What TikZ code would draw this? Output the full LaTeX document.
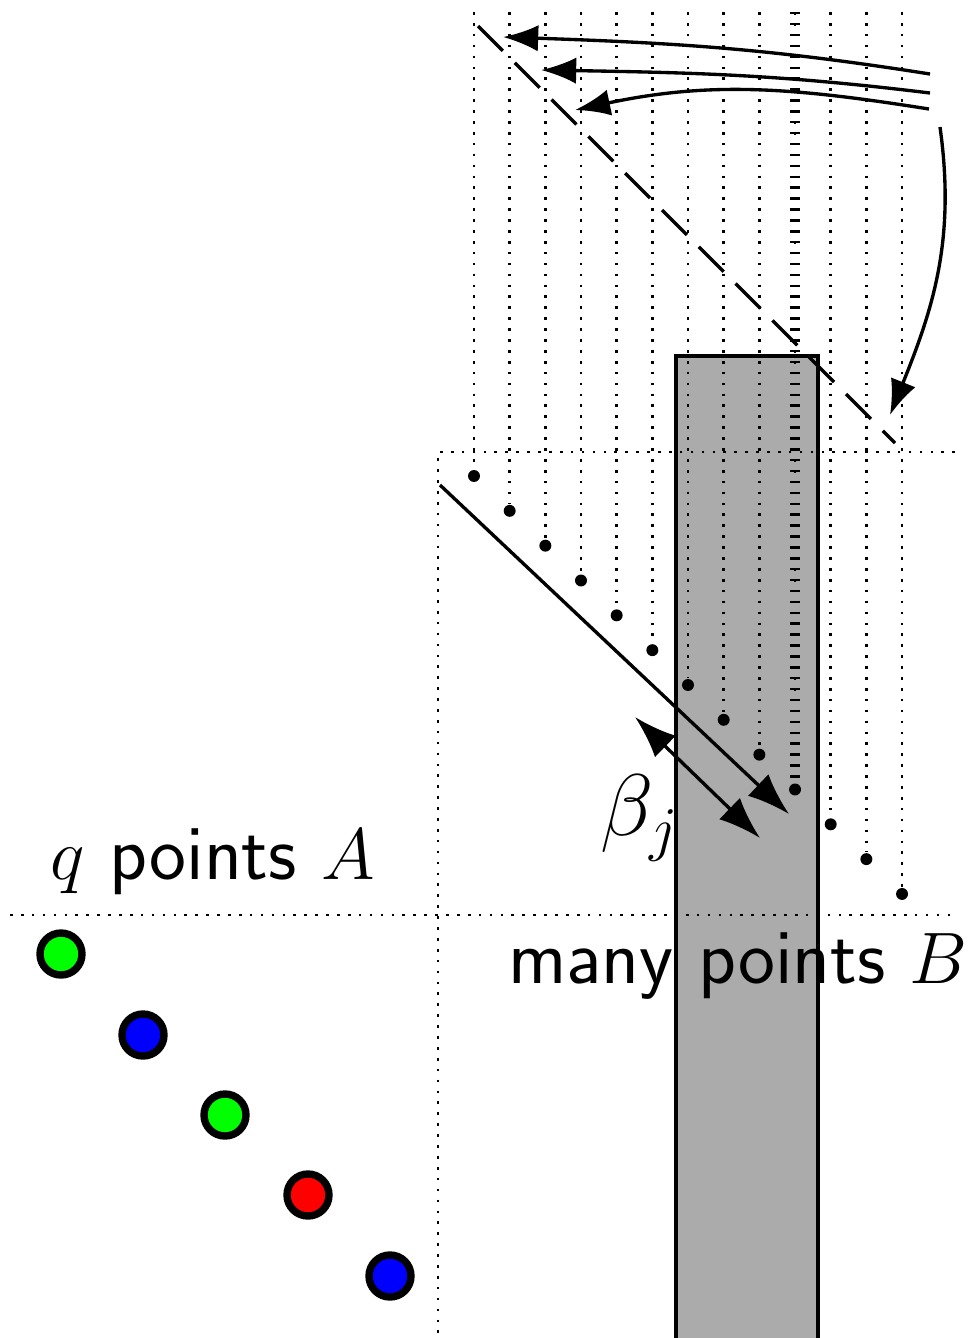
\documentclass[tikz,border=0pt]{standalone}
\usepackage{tikz}
\usetikzlibrary{arrows.meta,positioning}

\begin{document}
\begin{tikzpicture}[x=0.01cm,y=0.01cm,
  gridline/.style={line width=0.75pt, dash pattern=on 0.75pt off 2.35pt},
  bigtip/.style={-{Latex[length=12pt,width=8.5pt]}, line width=0.95pt},
  curvetip/.style={-{Latex[length=10pt,width=7.5pt]}, line width=0.95pt},
  bpoint/.style={circle, fill=black, inner sep=0pt, minimum size=3.4pt},
  apoint/.style={circle, draw=black, line width=2.1pt, inner sep=0pt, minimum size=0.42cm},
  bigtext/.style={font=\fontsize{22.3}{26}\selectfont\sffamily, inner sep=0pt}]
\useasboundingbox (0,0) rectangle (969,-1338);

% gray column
\fill[black!33] (676,-356) rectangle (818,-1340);
\draw[line width=0.95pt] (676,-1340) -- (676,-356) -- (818,-356) -- (818,-1340);

% frame lines
\coordinate (c0) at (438,-452);
\coordinate (c1) at (955,-452);
\coordinate (c2) at (438,-1338);
\coordinate (h0) at (10,-915);
\coordinate (h1) at (955,-915);
\draw[gridline] (c1) -- (c0) -- (c2);
\draw[gridline] (h0) -- (h1);

% points B and their columns
\foreach \i in {1,...,13} {
  \coordinate (t\i) at ({474+35.67*(\i-1)},-12);
  \node[bpoint] (b\i) at ({474+35.67*(\i-1)},{-476-34.83*(\i-1)}) {};
  \draw[gridline] (t\i) -- (b\i);
}
\draw[line width=2.6pt, dash pattern=on 0.7pt off 2.4pt] (t10) -- (b10.north);

% diagonal
\coordinate (d0) at (478,-26);
\coordinate (d1) at (895,-443);
\draw[line width=0.95pt, dash pattern=on 10pt off 4.8pt] (d0) -- (d1);

% curved arrows
\coordinate (s1) at (930,-74);
\coordinate (e1) at (503,-37);
\coordinate (s2) at (930,-93);
\coordinate (e2) at (541,-70);
\coordinate (s3) at (929,-109);
\coordinate (e3) at (575,-110);
\coordinate (s4) at (940,-127);
\coordinate (e4) at (890,-415);
\draw[curvetip] (s1) to[out=171,in=-2] (e1);
\draw[curvetip] (s2) to[out=173,in=-1] (e2);
\draw[curvetip] (s3) to[out=171,in=12] (e3);
\draw[curvetip] (s4) to[out=-82,in=68] (e4);

% projection and width
\coordinate (p0) at (440,-485);
\coordinate (p1) at (789,-814);
\draw[bigtip] (p0) -- (p1);
\coordinate (w0) at (635,-717);
\coordinate (w1) at (760,-838);
\draw[bigtip, {Latex[length=12pt,width=8.5pt]}-{Latex[length=12pt,width=8.5pt]}] (w0) -- (w1);
\node[font=\fontsize{23.5}{28}\selectfont] (beta) at (640,-818) {$\beta_j$};

% points A
\node[apoint, fill=green] (a1) at (61,-954) {};
\node[apoint, fill=blue] (a2) at (143,-1035) {};
\node[apoint, fill=green] (a3) at (225,-1115) {};
\node[apoint, fill=red] (a4) at (308,-1195) {};
\node[apoint, fill=blue] (a5) at (390,-1276) {};

% labels
\node[bigtext, anchor=base] (la) at (213,-879) {$q$ points $A$};
\node[bigtext, anchor=base] (lb) at (738,-983) {many points $B$};
\end{tikzpicture}
\end{document}
